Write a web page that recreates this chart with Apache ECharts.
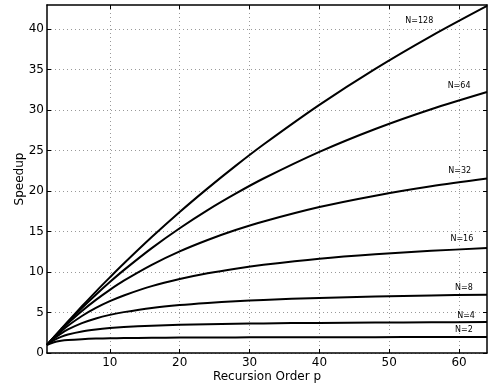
<!DOCTYPE html>
<html>
<head>
<meta charset="utf-8">
<script src="https://cdn.jsdelivr.net/npm/echarts@6/dist/echarts.min.js"></script>
<style>
  html, body { margin: 0; padding: 0; background: #fff; }
  main { width: 490px; height: 392px; }
</style>
</head>
<body>
<main></main>
<script>
// recursion order p where the curves were read
const orders = [1, 2, 3, 4, 6, 8, 10, 12, 16, 20, 24, 28, 32, 40, 48, 56, 64]

const speedupN2 = [1, 1.33, 1.5, 1.6, 1.71, 1.78, 1.82, 1.85, 1.88, 1.9, 1.92, 1.93, 1.94, 1.95, 1.96, 1.97, 1.97]
const speedupN4 = [1, 1.6, 2.0, 2.29, 2.67, 2.91, 3.08, 3.2, 3.37, 3.48, 3.56, 3.61, 3.66, 3.72, 3.76, 3.8, 3.82]
const speedupN8 = [1, 1.78, 2.4, 2.91, 3.69, 4.27, 4.71, 5.05, 5.57, 5.93, 6.19, 6.4, 6.56, 6.81, 6.98, 7.11, 7.21]
const speedupN16 = [1, 1.88, 2.67, 3.37, 4.57, 5.57, 6.4, 7.11, 8.26, 9.14, 9.85, 10.42, 10.89, 11.64, 12.19, 12.62, 12.96]
const speedupN32 = [1, 1.94, 2.82, 3.66, 5.19, 6.56, 7.8, 8.93, 10.89, 12.55, 13.96, 15.19, 16.25, 18.03, 19.44, 20.6, 21.56]
const speedupN64 = [1, 1.97, 2.91, 3.82, 5.57, 7.21, 8.77, 10.24, 12.96, 15.42, 17.66, 19.69, 21.56, 24.85, 27.68, 30.12, 32.25]
const speedupN128 = [1, 1.98, 2.95, 3.91, 5.77, 7.59, 9.34, 11.05, 14.32, 17.42, 20.34, 23.12, 25.76, 30.66, 35.11, 39.16, 42.89]

const curveNames = ['N=2', 'N=4', 'N=8', 'N=16', 'N=32', 'N=64', 'N=128']
const curveValues = [speedupN2, speedupN4, speedupN8, speedupN16, speedupN32, speedupN64, speedupN128]
// where each curve's label sits, in data units [p, speedup]
const labelAt = [[60.7, 2.84], [61, 4.6], [60.7, 8.07], [60.4, 14.05], [60.1, 22.5], [60, 33], [54.3, 41]]

const xTicks = [10, 20, 30, 40, 50, 60]
const yTicks = [0, 5, 10, 15, 20, 25, 30, 35, 40]

const font = 'DejaVu Sans, Arial, Helvetica, sans-serif'

const chart = echarts.init(document.querySelector('main'), null, { renderer: 'canvas' })

function frameAxis(extra) {
  return Object.assign({
    type: 'value',
    axisLine: { show: true, onZero: false, lineStyle: { color: '#000', width: 1.5 } },
    axisTick: { show: true, inside: true, length: 4, lineStyle: { color: '#000', width: 1 } },
    axisLabel: { show: false },
    splitLine: { show: false },
  }, extra)
}

const series = curveNames.map((name, i) => ({
  name,
  type: 'line',
  xAxisIndex: 0,
  yAxisIndex: 0,
  data: orders.map((p, j) => [p, curveValues[i][j]]),
  smooth: 0.3,
  showSymbol: false,
  symbol: 'none',
  lineStyle: { color: '#000', width: 2 },
  z: 3,
  markPoint: {
    symbol: 'circle',
    symbolSize: 0,
    data: [{ coord: labelAt[i] }],
    label: {
      show: true,
      position: 'inside',
      formatter: name,
      color: '#000',
      fontSize: 8,
      fontFamily: font,
    },
  },
}))

chart.setOption({
  animation: false,
  grid: { left: 47, right: 3, top: 5, bottom: 39, containLabel: false },
  xAxis: [
    frameAxis({
      position: 'bottom',
      min: 1,
      max: 64,
      axisTick: { show: true, inside: true, length: 4, customValues: xTicks, lineStyle: { color: '#000' } },
      axisLabel: { show: true, customValues: xTicks, color: '#000', fontSize: 12, fontFamily: font, margin: 4 },
      splitLine: { show: true, lineStyle: { color: '#999', type: [1, 3], width: 1 } },
      name: 'Recursion Order p',
      nameLocation: 'middle',
      nameGap: 18,
      nameMoveOverlap: false,
      nameTextStyle: { color: '#000', fontSize: 12, fontFamily: font },
    }),
    frameAxis({
      position: 'top',
      min: 1,
      max: 64,
      axisTick: { show: true, inside: true, length: 4, customValues: xTicks, lineStyle: { color: '#000' } },
    }),
  ],
  yAxis: [
    frameAxis({
      position: 'left',
      min: 0,
      max: 43,
      axisTick: { show: true, inside: true, length: 4, customValues: yTicks, lineStyle: { color: '#000' } },
      axisLabel: { show: true, customValues: yTicks, color: '#000', fontSize: 12, fontFamily: font, margin: 3 },
      splitLine: { show: true, lineStyle: { color: '#999', type: [1, 3], width: 1 } },
      name: 'Speedup',
      nameLocation: 'middle',
      nameGap: 21,
      nameMoveOverlap: false,
      nameTextStyle: { color: '#000', fontSize: 12, fontFamily: font },
    }),
    frameAxis({
      position: 'right',
      min: 0,
      max: 43,
      axisTick: { show: true, inside: true, length: 4, customValues: yTicks, lineStyle: { color: '#000' } },
    }),
  ],
  series,
})
</script>
</body>
</html>
